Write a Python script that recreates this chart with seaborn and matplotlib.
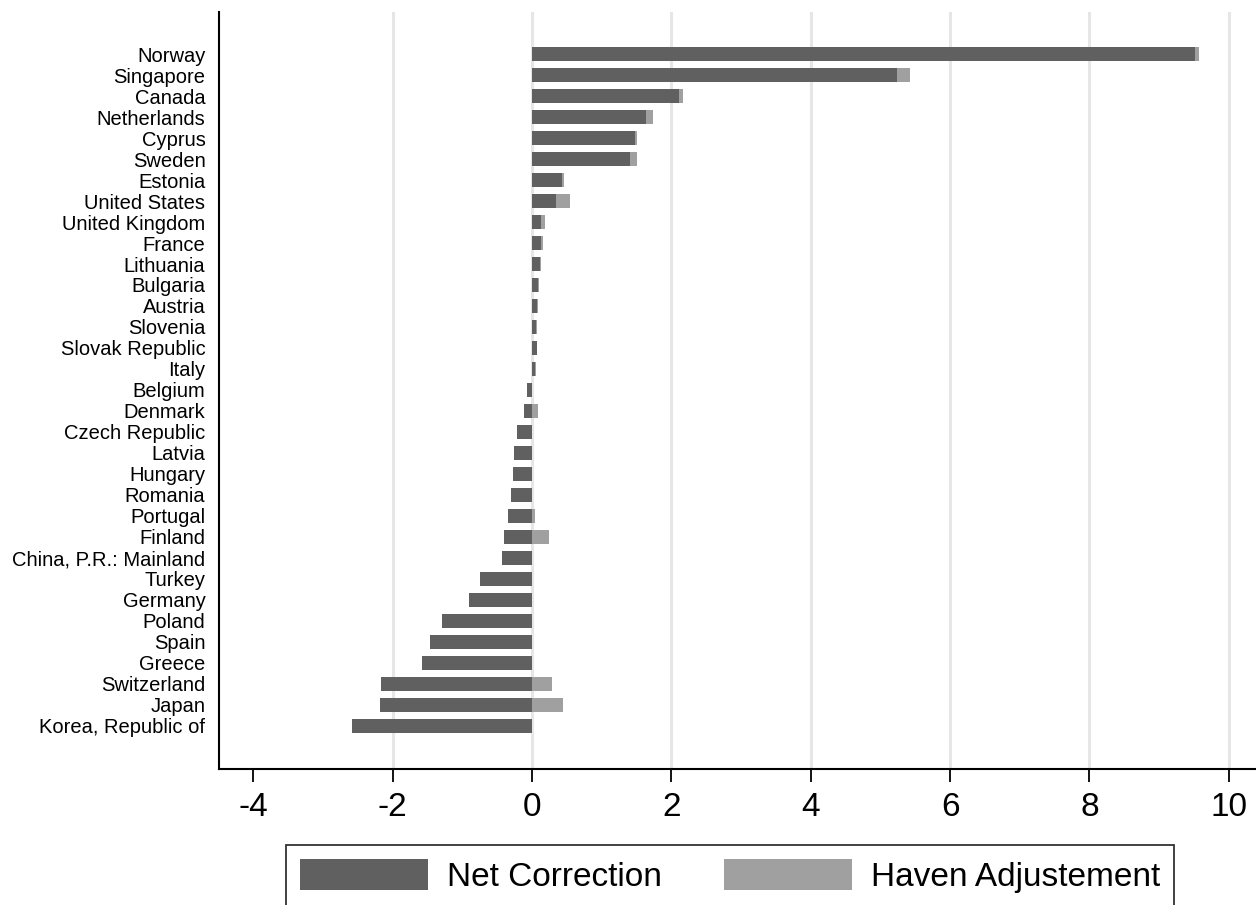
import matplotlib
matplotlib.use("Agg")
import matplotlib.pyplot as plt
from matplotlib.patches import Patch
import numpy as np
import pandas as pd
import seaborn as sns

countries = [
    "Norway", "Singapore", "Canada", "Netherlands", "Cyprus", "Sweden",
    "Estonia", "United States", "United Kingdom", "France", "Lithuania",
    "Bulgaria", "Austria", "Slovenia", "Slovak Republic", "Italy", "Belgium",
    "Denmark", "Czech Republic", "Latvia", "Hungary", "Romania", "Portugal",
    "Finland", "China, P.R.: Mainland", "Turkey", "Germany", "Poland",
    "Spain", "Greece", "Switzerland", "Japan", "Korea, Republic of",
]
net_correction = [
    9.52, 5.24, 2.11, 1.64, 1.48, 1.41,
    0.43, 0.34, 0.13, 0.13, 0.11,
    0.08, 0.07, 0.06, 0.07, 0.04, -0.07,
    -0.11, -0.22, -0.26, -0.28, -0.30, -0.34,
    -0.40, -0.43, -0.75, -0.90, -1.29,
    -1.46, -1.58, -2.17, -2.19, -2.58,
]
haven_adjustment = [
    0.05, 0.18, 0.06, 0.10, 0.03, 0.10,
    0.03, 0.21, 0.05, 0.02, 0.02,
    0.02, 0.01, 0.01, 0.00, 0.01, 0.00,
    0.08, 0.00, 0.00, 0.00, 0.00, 0.04,
    0.24, 0.00, 0.00, 0.00, 0.00,
    0.00, 0.00, 0.28, 0.45, 0.00,
]
x_ticks = [-4, -2, 0, 2, 4, 6, 8, 10]

DARK = "#606060"
LIGHT = "#a0a0a0"

df = pd.DataFrame({
    "country": countries,
    "net": net_correction,
    "haven": haven_adjustment,
})
# haven adjustment is stacked on the positive side: after a positive
# net correction, or starting from zero when the correction is negative
df["stack_end"] = df["net"].clip(lower=0) + df["haven"]

sns.set_theme(style="white")
plt.rcParams["font.family"] = ["Liberation Sans", "DejaVu Sans"]

fig = plt.figure(figsize=(12.56, 9.05), dpi=100)
ax = fig.add_axes([0.1746, 0.1503, 1.0 - 0.1746, 0.9867 - 0.1503])

sns.barplot(data=df, y="country", x="stack_end", order=countries,
            color=LIGHT, saturation=1, width=0.65, errorbar=None,
            edgecolor="none", linewidth=0, ax=ax, zorder=2)
sns.barplot(data=df, y="country", x="net", order=countries,
            color=DARK, saturation=1, width=0.65, errorbar=None,
            edgecolor="none", linewidth=0, ax=ax, zorder=3)

ax.set_xlim(-4.49, 10.39)
ax.set_ylim(len(countries) - 1 + 2.05, -2.0)
ax.set_xticks(x_ticks)
ax.set_xticklabels([str(t) for t in x_ticks])
ax.set_xlabel("")
ax.set_ylabel("")

ax.grid(axis="x", color="#e6e6e6", linewidth=2.2, zorder=0)
ax.grid(axis="y", visible=False)
ax.set_axisbelow(True)
ax.xaxis.get_gridlines()[0].set_visible(False)

for side in ("top", "right"):
    ax.spines[side].set_visible(False)
for side in ("left", "bottom"):
    ax.spines[side].set_color("black")
    ax.spines[side].set_linewidth(1.5)

ax.tick_params(axis="x", which="major", direction="out", length=9.5,
               width=1.3, color="black", labelsize=24, pad=7,
               labelcolor="black", bottom=True)
ax.tick_params(axis="y", length=0, labelsize=14.5, pad=10,
               labelcolor="black")

handles = [Patch(facecolor=DARK, edgecolor="none", label="Net Correction"),
           Patch(facecolor=LIGHT, edgecolor="none", label="Haven Adjustement")]
leg = fig.legend(handles=handles, loc="upper left",
                 bbox_to_anchor=(286 / 1256, 1 - 845 / 905),
                 ncol=2, fontsize=24, frameon=True, fancybox=False,
                 handlelength=3.84, handleheight=1.05, handletextpad=0.57,
                 columnspacing=1.86, borderpad=0.42, borderaxespad=0)
leg.get_frame().set_edgecolor("black")
leg.get_frame().set_linewidth(1.3)
for txt in leg.get_texts():
    txt.set_color("black")

fig.savefig("out.png", dpi=100)
